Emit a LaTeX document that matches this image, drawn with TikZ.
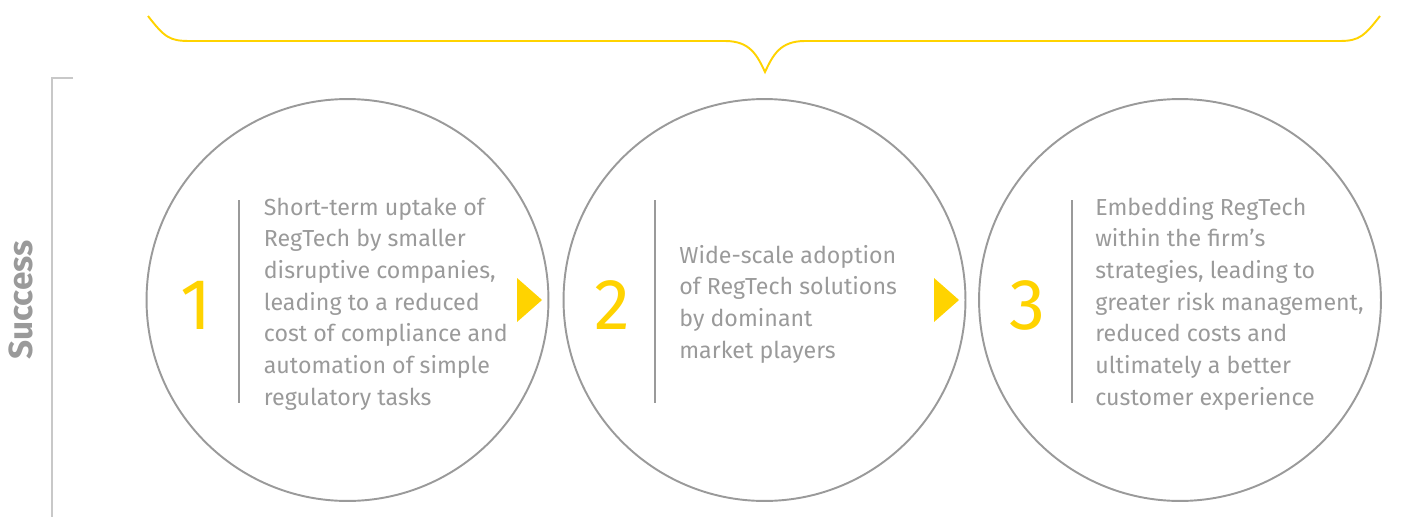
\documentclass[tikz,border=0pt]{standalone}
\usepackage{fontspec}
\setmainfont{Fira Sans}
\usetikzlibrary{calc,positioning,shapes.geometric}

\definecolor{eyyellow}{HTML}{FFD300}
\definecolor{eygray}{HTML}{9A9A9A}
\definecolor{axisgray}{HTML}{C8C8C8}

\tikzset{
  stage/.style={circle, draw=eygray, line width=1.1pt, minimum size=8.04cm, inner sep=0},
  marker/.style={isosceles triangle, isosceles triangle stretches, fill=eyyellow, draw=none, inner sep=0, minimum width=0.88cm, minimum height=0.5cm},
  num/.style={text=eyyellow, inner sep=0, font=\fontsize{41}{41}\selectfont},
  desc/.style={text=eygray, inner sep=0, align=left, font=\fontsize{13.2}{18.05}\selectfont},
  bar/.style={draw=eygray, line width=1.1pt},
  brace/.style={draw=eyyellow, line width=1.1pt},
  axis/.style={draw=axisgray, line width=0.8pt}
}

\begin{document}
\begin{tikzpicture}[x=0.02cm, y=-0.02cm]
  \useasboundingbox (0,0) rectangle (1405,517);

  % axis on the left
  \draw[axis] (73,78) -- (52,78) -- (52,517);
  \node[rotate=90, text=eygray, inner sep=0, font=\fontsize{19}{19}\selectfont\bfseries] (success) at (21,300) {Success};

  % brace over the stages
  \draw[brace] (148,16) .. controls (165,38) and (170,41) .. (190,41) -- (725,41)
    .. controls (750,41) and (757,55) .. (765,72)
    .. controls (773,55) and (780,41) .. (805,41) -- (1340,41)
    .. controls (1360,41) and (1365,35) .. (1380,16);

  % stage 1
  \node[stage] (c1) at (347.5,300) {};
  \node[num] (n1) at ($(c1)+(-151,5)$) {1};
  \draw[bar] ($(c1)+(-108.5,-100)$) -- ($(c1)+(-108.5,103)$);
  \node[desc, anchor=base west] (d1) at ($(c1)+(-84,105.3)$)
    {Short-term uptake of\\RegTech by smaller\\disruptive companies,\\leading to a reduced\\cost of compliance and\\automation of simple\\regulatory tasks};
  \node[marker, anchor=east] (t1) at ([xshift=-0.13cm]c1.east) {};

  % stage 2
  \node[stage] (c2) at (764.5,300) {};
  \node[num] (n2) at ($(c2)+(-152,5)$) {2};
  \draw[bar] ($(c2)+(-109.5,-100)$) -- ($(c2)+(-109.5,103)$);
  \node[desc, anchor=base west] (d2) at ($(c2)+(-85.5,58.4)$)
    {Wide-scale adoption\\of RegTech solutions\\by dominant\\market players};
  \node[marker, anchor=east] (t2) at ([xshift=-0.13cm]c2.east) {};

  % stage 3
  \node[stage] (c3) at (1180,300) {};
  \node[num] (n3) at ($(c3)+(-153,5)$) {3};
  \draw[bar] ($(c3)+(-108,-100)$) -- ($(c3)+(-108,103)$);
  \node[desc, anchor=base west] (d3) at ($(c3)+(-85,105.3)$)
    {Embedding RegTech\\within the firm’s\\strategies, leading to\\greater risk management,\\reduced costs and\\ultimately a better\\customer experience};
\end{tikzpicture}
\end{document}
